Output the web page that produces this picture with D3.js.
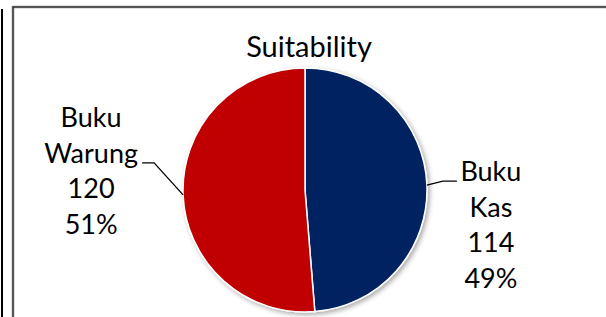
<!DOCTYPE html>
<html>
<head>
<meta charset="utf-8">
<script src="https://cdn.jsdelivr.net/npm/d3@7"></script>
<style>
  html, body { margin: 0; padding: 0; background: #fff; }
  #pie-chart { width: 606px; height: 317px; }
  text { font-family: Lato, "Open Sans", sans-serif; fill: #000; }
</style>
</head>
<body>
<div id="pie-chart"></div>
<script>
// Pie Chart: Suitability (Buku Kas vs Buku Warung)

const categories = ["Buku Kas", "Buku Warung"];
const values = [114, 120];
const percentLabels = ["49%", "51%"];
const colors = ["#002060", "#C00000"];

function drawPieChart() {
    const container = d3.select("#pie-chart");
    container.selectAll("*").remove();

    const width = 606;
    const height = 317;
    const cx = 305;
    const cy = 190;
    const radius = 122;

    const svg = container.append("svg")
        .attr("width", width)
        .attr("height", height);

    // page frame (cropped screenshot edges)
    svg.append("line")
        .attr("x1", 2).attr("x2", 2)
        .attr("y1", 9).attr("y2", height)
        .attr("stroke", "#000").attr("stroke-width", 2);
    svg.append("rect")
        .attr("x", 13).attr("y", 7)
        .attr("width", width + 10).attr("height", height + 10)
        .attr("fill", "none")
        .attr("stroke", "#999").attr("stroke-width", 2.6);
    svg.append("rect")
        .attr("x", 13).attr("y", 7)
        .attr("width", width + 10).attr("height", height + 10)
        .attr("fill", "none")
        .attr("stroke", "#111").attr("stroke-width", 1);

    const defs = svg.append("defs");
    const shadow = defs.append("filter")
        .attr("id", "pie-shadow")
        .attr("x", "-10%").attr("y", "-10%")
        .attr("width", "120%").attr("height", "120%");
    shadow.append("feDropShadow")
        .attr("dx", 2).attr("dy", 2)
        .attr("stdDeviation", 2.5)
        .attr("flood-color", "#000")
        .attr("flood-opacity", 0.35);

    svg.append("text")
        .attr("x", cx + 4)
        .attr("y", 57)
        .attr("text-anchor", "middle")
        .style("font-size", "29px")
        .text("Suitability");

    const data = categories.map((c, i) => ({
        name: c, value: values[i], pct: percentLabels[i], color: colors[i]
    }));

    const pie = d3.pie()
        .sort(null)
        .value(d => d.value);

    const arc = d3.arc()
        .innerRadius(0)
        .outerRadius(radius);

    const edgeArc = d3.arc()
        .innerRadius(radius)
        .outerRadius(radius);

    const g = svg.append("g")
        .attr("transform", `translate(${cx}, ${cy})`);

    const arcs = pie(data);

    g.append("g")
        .attr("filter", "url(#pie-shadow)")
        .selectAll("path")
        .data(arcs)
        .enter()
        .append("path")
        .attr("d", arc)
        .attr("fill", d => d.data.color)
        .attr("stroke", "white")
        .style("stroke-width", "1.5px");

    // label layout: left side / right side blocks
    const lineH = 35.5;
    arcs.forEach(d => {
        const mid = (d.startAngle + d.endAngle) / 2;
        const right = Math.sin(mid) > 0;
        const [ex, ey] = edgeArc.centroid(d);
        const lines = d.data.name.split(" ").concat([String(d.data.value), d.data.pct]);

        let pts, tx, firstBase;
        if (right) {
            const ly = ey - 4;
            pts = [[ex, ey], [ex + 16, ly], [ex + 30, ly]];
            tx = ex + 64;
            firstBase = ly;
        } else {
            const ly = ey - 32;
            pts = [[ex, ey], [ex - 29, ly], [ex - 41, ly]];
            tx = ex - 92;
            firstBase = ly - lineH;
        }

        g.append("path")
            .attr("d", d3.line()(pts))
            .attr("fill", "none")
            .attr("stroke", "#000")
            .attr("stroke-width", 1.3);

        const t = g.append("text")
            .attr("text-anchor", "middle")
            .style("font-size", "27px");
        lines.forEach((s, i) => {
            t.append("tspan")
                .attr("x", tx)
                .attr("y", firstBase + i * lineH)
                .text(s);
        });
    });
}

drawPieChart();
</script>
</body>
</html>
